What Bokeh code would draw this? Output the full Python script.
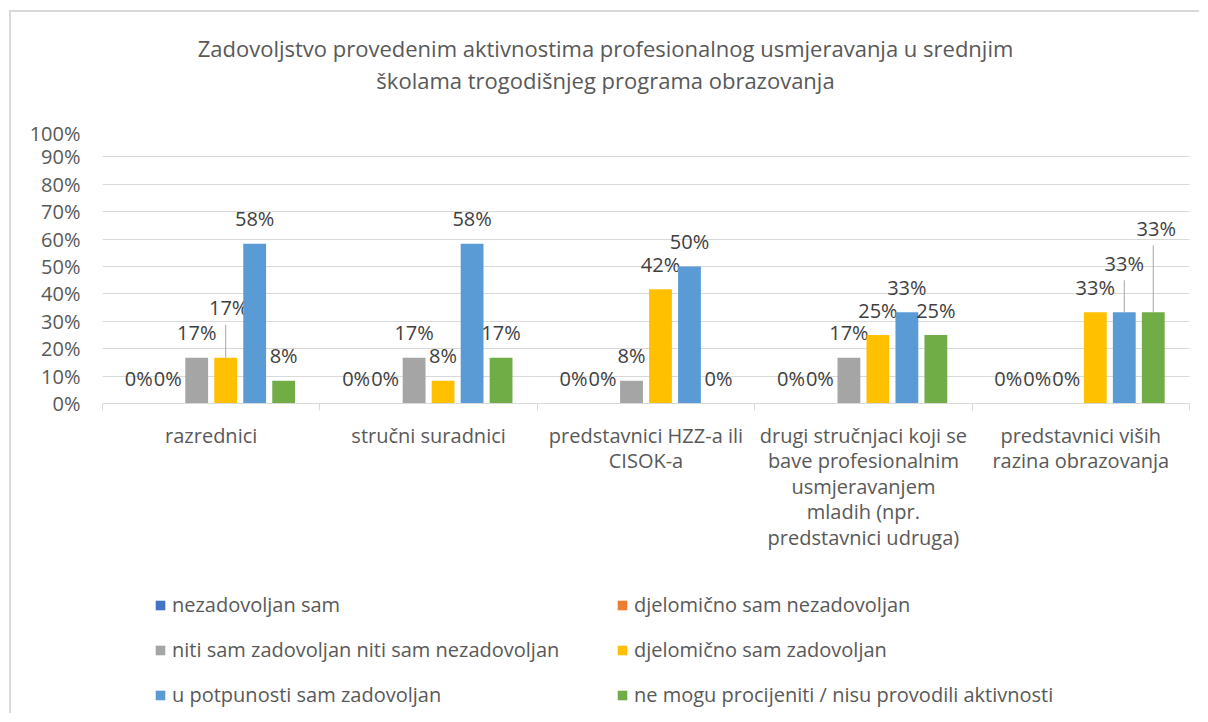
from bokeh.plotting import figure
from bokeh.models import (Range1d, FixedTicker, Legend, LegendItem, ColumnDataSource)
from bokeh.layouts import column
from bokeh.core.properties import value
from bokeh.embed import file_html
from bokeh.resources import INLINE

# ---------------- data ----------------
categories = [
    "razrednici",
    "stručni suradnici",
    "predstavnici HZZ-a ili\nCISOK-a",
    "drugi stručnjaci koji se\nbave profesionalnim\nusmjeravanjem\nmladih (npr.\npredstavnici udruga)",
    "predstavnici viših\nrazina obrazovanja",
]
series_names = [
    "nezadovoljan sam",
    "djelomično sam nezadovoljan",
    "niti sam zadovoljan niti sam nezadovoljan",
    "djelomično sam zadovoljan",
    "u potpunosti sam zadovoljan",
    "ne mogu procijeniti / nisu provodili aktivnosti",
]
nezadovoljan = [0, 0, 0, 0, 0]
djelomicno_nezadovoljan = [0, 0, 0, 0, 0]
niti_niti = [16.7, 16.7, 8.3, 16.7, 0]
djelomicno_zadovoljan = [16.7, 8.3, 41.7, 25.0, 33.3]
u_potpunosti = [58.3, 58.3, 50.0, 33.3, 33.3]
ne_mogu = [8.3, 16.7, 0, 25.0, 33.3]
series_values = [nezadovoljan, djelomicno_nezadovoljan, niti_niti,
                 djelomicno_zadovoljan, u_potpunosti, ne_mogu]
colors = ["#4472C4", "#ED7D31", "#A5A5A5", "#FFC000", "#5B9BD5", "#70AD47"]
y_ticks = [0, 10, 20, 30, 40, 50, 60, 70, 80, 90, 100]
title_lines = ["Zadovoljstvo provedenim aktivnostima profesionalnog usmjeravanja u srednjim",
               "školama trogodišnjeg programa obrazovanja"]

# displaced data labels (pixels): (category, series) -> (dx, extra lift)
label_shift = {(0, 3): (3, 25), (4, 4): (0, 24), (4, 5): (3, 59)}

FONT = "Open Sans"
GREY_TXT = "#595959"
W = 1188
BL, BR = 91, 10
FW = W - BL - BR
TITLE_H = 107
MAIN_H = 455
LEG_H = 139
FRAME_H = 274

# ---------------- title strip ----------------
pt = figure(width=W, height=TITLE_H, output_backend="svg", toolbar_location=None,
            x_range=Range1d(0, FW), y_range=Range1d(TITLE_H, 0),
            x_axis_type=None, y_axis_type=None,
            min_border_left=BL, min_border_right=BR, min_border_top=0,
            min_border_bottom=0, outline_line_color=None)
pt.grid.visible = False
pt.text(x=[503, 503], y=[35, 67], text=title_lines, text_align="center",
        text_baseline="middle", text_font=value(FONT), text_font_size="22px",
        text_color=GREY_TXT)

# ---------------- main chart ----------------
p = figure(width=W, height=MAIN_H, output_backend="svg", toolbar_location=None,
           x_range=Range1d(0, 5), y_range=Range1d(0, 100),
           min_border_left=BL, min_border_right=BR, min_border_top=10,
           min_border_bottom=MAIN_H - 10 - FRAME_H)
p.outline_line_color = None
p.xgrid.visible = False
p.ygrid.grid_line_color = "#d9d9d9"
p.ygrid.ticker = FixedTicker(ticks=y_ticks)

n = len(series_names)
step = 0.8 / n
bar_w = 0.105
for i, (vals, col) in enumerate(zip(series_values, colors)):
    xs = [c + 0.5 + (i - (n - 1) / 2) * step for c in range(len(categories))]
    p.vbar(x=xs, top=vals, width=bar_w, fill_color=col, line_color=None)
    dx, up, txt = [], [], []
    for c, v in enumerate(vals):
        sdx, sup = label_shift.get((c, i), (0, 0))
        dx.append(sdx)
        up.append(-(25 + sup))
        txt.append(f"{round(v):d}%")
        if (c, i) in label_shift:
            p.segment(x0=[xs[c]], y0=[v], x1=[xs[c]],
                      y1=[v + (25 + sup - 17) * 100 / FRAME_H],
                      line_color="#a6a6a6", line_width=1)
    src = ColumnDataSource(dict(x=xs, y=vals, t=txt, dx=dx, up=up))
    p.text(x="x", y="y", text="t", x_offset="dx", y_offset="up", source=src,
           text_align="center", text_baseline="middle",
           text_font=value(FONT), text_font_size="20px", text_color="#404040")

xa = p.xaxis[0]
xa.ticker = FixedTicker(ticks=[c + 0.5 for c in range(len(categories))],
                        minor_ticks=list(range(len(categories) + 1)))
xa.major_label_overrides = {c + 0.5: lab for c, lab in enumerate(categories)}
xa.major_tick_out = 0
xa.major_tick_in = 0
xa.minor_tick_out = 7
xa.minor_tick_in = 0
xa.minor_tick_line_color = "#d9d9d9"
xa.axis_line_color = "#d9d9d9"
xa.major_label_text_font = FONT
xa.major_label_text_font_size = "20px"
xa.major_label_text_line_height = 0.95
xa.major_label_text_color = GREY_TXT
xa.major_label_standoff = 11

ya = p.yaxis[0]
ya.ticker = FixedTicker(ticks=y_ticks)
ya.major_label_overrides = {t: f"{t}%" for t in y_ticks}
ya.axis_line_color = None
ya.major_tick_line_color = None
ya.minor_tick_line_color = None
ya.major_label_text_font = FONT
ya.major_label_text_font_size = "20px"
ya.major_label_text_color = GREY_TXT
ya.major_label_standoff = 16

# ---------------- legend strip ----------------
pl = figure(width=W, height=LEG_H, output_backend="svg", toolbar_location=None,
            x_range=Range1d(0, 1), y_range=Range1d(0, 1),
            x_axis_type=None, y_axis_type=None,
            min_border_left=BL, min_border_right=BR, min_border_top=0,
            min_border_bottom=0, outline_line_color=None)
pl.grid.visible = False
items = []
for name, col in zip(series_names, colors):
    r = pl.vbar(x=[-5], top=[0], width=0.01, fill_color=col, line_color=None)
    items.append(LegendItem(label=name, renderers=[r]))
for col_i, xpos in enumerate([52, 514]):
    leg = Legend(items=items[col_i::2], location=(xpos, 5), orientation="vertical",
                 glyph_width=12, glyph_height=12, label_standoff=6,
                 label_height=20, spacing=18, padding=0, margin=0,
                 border_line_color=None, background_fill_alpha=0,
                 label_text_font=FONT, label_text_font_size="20px",
                 label_text_color=GREY_TXT)
    pl.add_layout(leg, "center")

layout = column(pt, p, pl, spacing=0)
layout.styles = {"margin-left": "9px", "margin-top": "10px",
                 "border-left": "2px solid #d9d9d9", "border-top": "2px solid #d9d9d9"}

open("out.html", "w").write(file_html(layout, INLINE))
